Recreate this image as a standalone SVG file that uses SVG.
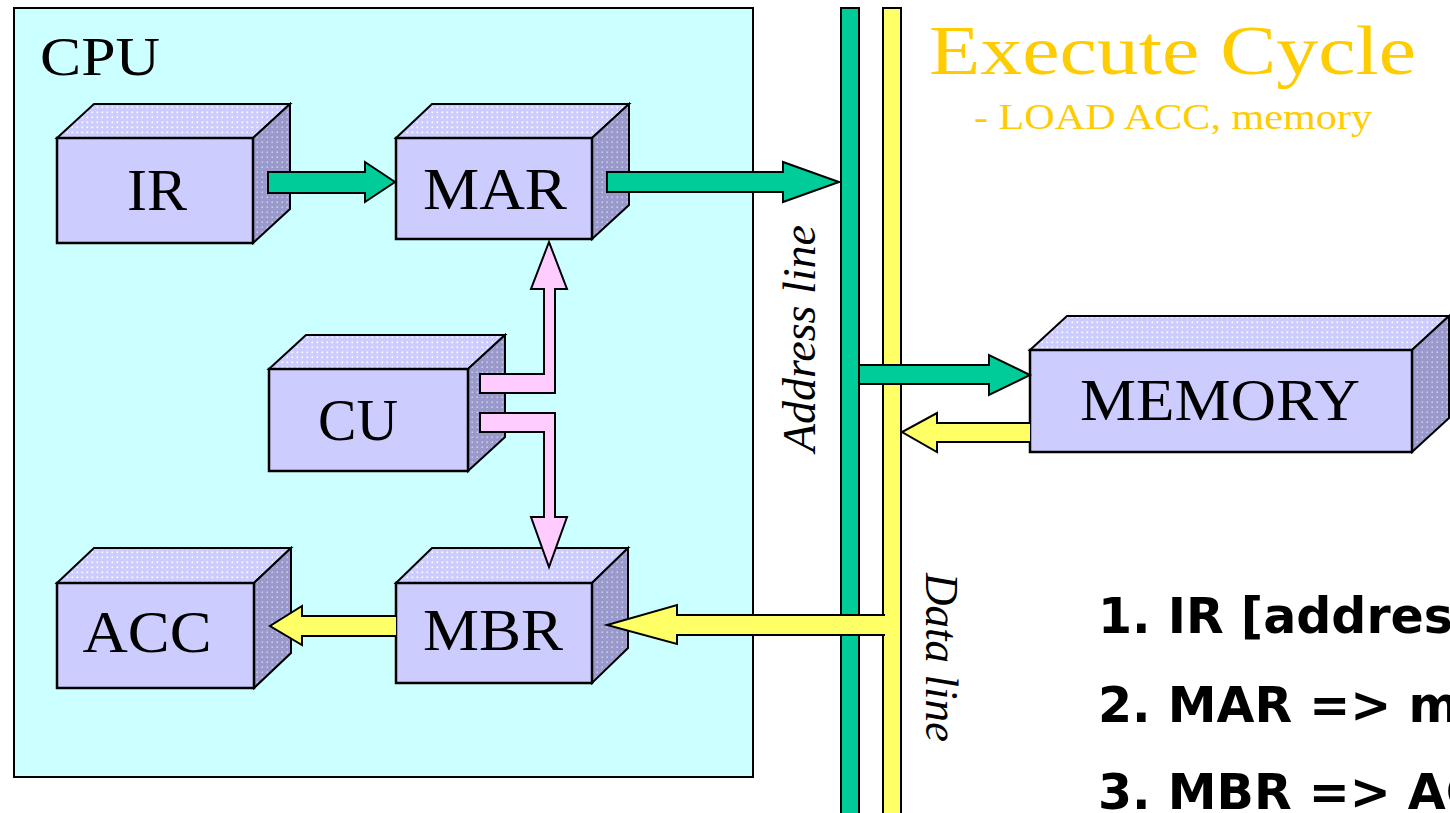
<svg xmlns="http://www.w3.org/2000/svg" width="1450" height="813" viewBox="0 0 1450 813">
<defs>
<pattern id="topDots" width="5" height="5" patternUnits="userSpaceOnUse">
<rect width="5" height="5" fill="#ccccff"/>
<rect x="1.5" y="1.5" width="1.6" height="1.6" fill="#ffffff"/>
</pattern>
<pattern id="sideDots" width="5" height="5" patternUnits="userSpaceOnUse">
<rect width="5" height="5" fill="#9999cc"/>
<rect x="1.5" y="1.5" width="1.4" height="1.4" fill="#d8d8f0"/>
</pattern>
<style>
.front{fill:#ccccff;stroke:#000;stroke-width:2.5}
.top{fill:url(#topDots);stroke:#000;stroke-width:2}
.side{fill:url(#sideDots);stroke:#000;stroke-width:2}
.lbl{font-family:"Liberation Serif","Times New Roman",serif;font-size:60px;fill:#000;text-anchor:middle}
.grn{fill:#00cc99;stroke:#000;stroke-width:2;stroke-linejoin:miter}
.yel{fill:#ffff66;stroke:#000;stroke-width:2;stroke-linejoin:miter}
.pnk{fill:#ffccff;stroke:#000;stroke-width:2;stroke-linejoin:miter}
.busLbl{font-family:"Liberation Serif","Times New Roman",serif;font-style:italic;font-size:46px;fill:#000}
.step{font-family:"DejaVu Sans",Verdana,sans-serif;font-weight:bold;font-size:49px;fill:#000}
</style>
</defs>
<rect width="1450" height="813" fill="#ffffff"/>

<g id="cpu">
<rect x="14" y="8" width="739" height="769" fill="#ccffff" stroke="#000" stroke-width="2"/>
<text x="40" y="75" font-family="Liberation Serif,'Times New Roman',serif" font-size="54" textLength="120" lengthAdjust="spacingAndGlyphs">CPU</text>
</g>

<g id="address-bus">
<rect x="841" y="8" width="18" height="820" fill="#00cc99" stroke="#000" stroke-width="2"/>
<text class="busLbl" transform="translate(815,452) rotate(-90)" textLength="227" lengthAdjust="spacingAndGlyphs">Address line</text>
</g>

<g id="data-bus">
<rect x="883" y="8" width="18" height="820" fill="#ffff66" stroke="#000" stroke-width="2"/>
<text class="busLbl" transform="translate(926,573) rotate(90)" textLength="169" lengthAdjust="spacingAndGlyphs">Data line</text>
</g>

<g id="title">
<text x="929" y="74" font-family="Liberation Serif,'Times New Roman',serif" font-size="70" fill="#ffcc00" textLength="487" lengthAdjust="spacingAndGlyphs">Execute Cycle</text>
<text x="974" y="129" font-family="Liberation Serif,'Times New Roman',serif" font-size="35" fill="#ffcc00" textLength="398" lengthAdjust="spacingAndGlyphs">- LOAD ACC, memory</text>
</g>

<g id="ir">
<polygon class="top" points="57,138 94,104 290,104 253,138"/>
<polygon class="side" points="253,138 290,104 290,209 253,243"/>
<rect class="front" x="57" y="138" width="196" height="105"/>
<text class="lbl" x="157" y="210">IR</text>
</g>

<g id="mar">
<polygon class="top" points="396,138 432,104 629,104 592,138"/>
<polygon class="side" points="592,138 629,104 629,205 592,239"/>
<rect class="front" x="396" y="138" width="196" height="101"/>
<text class="lbl" x="495" y="209" textLength="144" lengthAdjust="spacingAndGlyphs">MAR</text>
</g>

<g id="cu">
<polygon class="top" points="269,369 306,335 505,335 468,369"/>
<polygon class="side" points="468,369 505,335 505,437 468,471"/>
<rect class="front" x="269" y="369" width="199" height="102"/>
<text class="lbl" x="358" y="440" textLength="80" lengthAdjust="spacingAndGlyphs">CU</text>
</g>

<g id="acc">
<polygon class="top" points="57,583 94,548 291,548 254,583"/>
<polygon class="side" points="254,583 291,548 291,653 254,688"/>
<rect class="front" x="57" y="583" width="197" height="105"/>
<text class="lbl" x="147" y="652" textLength="129" lengthAdjust="spacingAndGlyphs">ACC</text>
</g>

<g id="mbr">
<polygon class="top" points="396,583 432,548 628,548 592,583"/>
<polygon class="side" points="592,583 628,548 628,648 592,683"/>
<rect class="front" x="396" y="583" width="196" height="100"/>
<text class="lbl" x="493" y="650" textLength="140" lengthAdjust="spacingAndGlyphs">MBR</text>
</g>

<g id="memory">
<polygon class="top" points="1030,350 1067,316 1449,316 1412,350"/>
<polygon class="side" points="1412,350 1449,316 1449,418 1412,452"/>
<rect class="front" x="1030" y="350" width="382" height="102"/>
<text class="lbl" x="1220" y="420" textLength="280" lengthAdjust="spacingAndGlyphs">MEMORY</text>
</g>

<g id="connectors">
<path class="grn" d="M268,172 H365 V162 L395,182 L365,202 V193 H268 Z"/>
<path class="grn" d="M607,172 H783 V162 L839,182 L783,202 V192 H607 Z"/>
<path class="grn" d="M859,365 H989 V355 L1030,375 L989,395 V384 H859 Z"/>
<path class="yel" d="M1030,423 H937 V413 L902,432 L937,452 V442 H1030"/>
<path class="yel" d="M885,615 H677 V605 L607,625 L677,644 V635 H885"/>
<path class="yel" d="M396,616 H302 V606 L270,626 L302,645 V636 H396"/>
<path class="pnk" d="M480,374 H544 V289 H531 L549,242 L567,289 H555 V393 H480 Z"/>
<path class="pnk" d="M480,413 H555 V517 H567 L549,567 L531,517 H544 V432 H480 Z"/>
</g>

<g id="steps">
<text class="step" x="1098" y="633">1. IR [addres</text>
<text class="step" x="1098" y="722">2. MAR =&gt; m</text>
<text class="step" x="1098" y="809">3. MBR =&gt; AC</text>
</g>
</svg>
